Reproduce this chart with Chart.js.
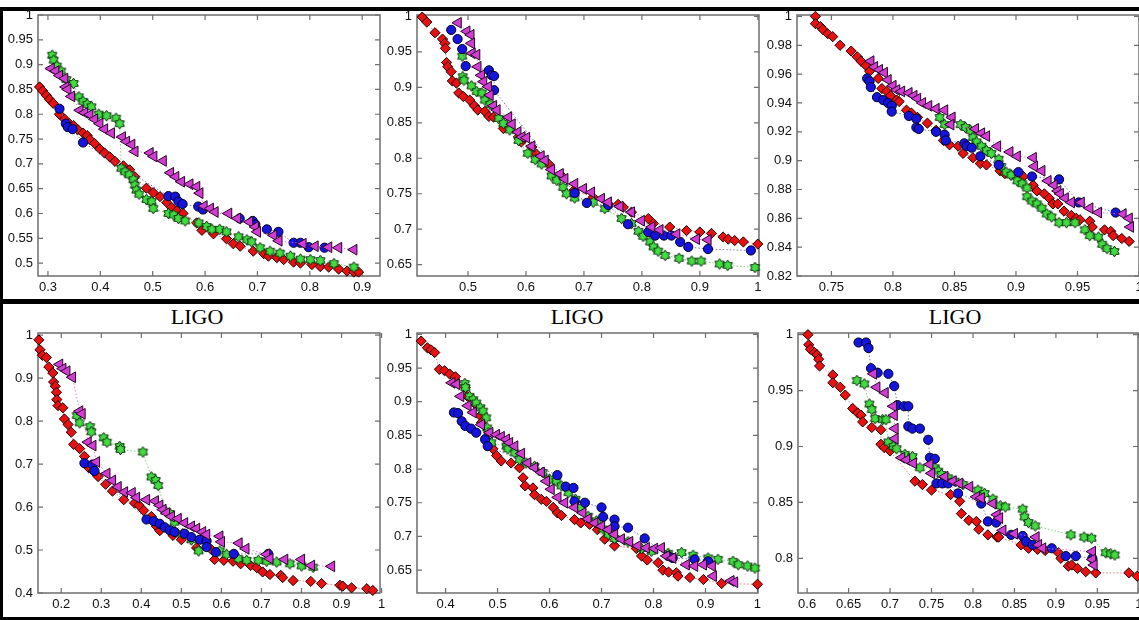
<!DOCTYPE html>
<html>
<head>
<meta charset="utf-8">
<script src="https://cdn.jsdelivr.net/npm/chart.js@4.4.1/dist/chart.umd.min.js"></script>
<style>
  html, body { margin: 0; padding: 0; background: #fff; }
  body { width: 1139px; height: 620px; position: relative; overflow: hidden; }
  canvas { position: absolute; }
  .bar { position: absolute; background: #000; }
  .ttl { position: absolute; font-family: "Liberation Serif", "DejaVu Serif", serif; font-size: 22px;
         color: #000; transform: translateX(-50%); line-height: 22px; }
</style>
</head>
<body>
<div class="bar" style="left:0;top:7px;width:1139px;height:4px"></div>
<div class="bar" style="left:0;top:299px;width:1139px;height:5px"></div>
<div class="bar" style="left:0;top:617px;width:1139px;height:3px"></div>
<div class="bar" style="left:0;top:7px;width:3px;height:613px"></div>
<div class="ttl" style="left:197px;top:306px">LIGO</div>
<div class="ttl" style="left:577px;top:306px">LIGO</div>
<div class="ttl" style="left:955px;top:306px">LIGO</div>

<script>
// ---- panel 1 (top left) ----
var p1XTicks = [0.3, 0.4, 0.5, 0.6, 0.7, 0.8, 0.9];
var p1YTicks = [0.5, 0.55, 0.6, 0.65, 0.7, 0.75, 0.8, 0.85, 0.9, 0.95, 1];
var p1XRange = [0.281, 0.934];
var p1YRange = [0.474, 1.0];
var p1Red = [[0.284,0.855],[0.290,0.847],[0.297,0.838],[0.303,0.830],[0.310,0.822],[0.322,0.800],[0.332,0.790],[0.341,0.781],[0.349,0.777],[0.357,0.769],[0.367,0.762],[0.375,0.757],[0.380,0.749],[0.389,0.741],[0.399,0.730],[0.408,0.722],[0.418,0.714],[0.428,0.705],[0.444,0.696],[0.456,0.688],[0.466,0.674],[0.488,0.651],[0.501,0.642],[0.514,0.634],[0.527,0.622],[0.536,0.612],[0.546,0.605],[0.558,0.600],[0.584,0.581],[0.594,0.566],[0.616,0.559],[0.641,0.549],[0.654,0.539],[0.667,0.534],[0.692,0.524],[0.712,0.519],[0.721,0.514],[0.737,0.511],[0.750,0.507],[0.769,0.502],[0.782,0.500],[0.804,0.497],[0.820,0.493],[0.836,0.492],[0.855,0.488],[0.871,0.484],[0.884,0.482],[0.893,0.482]];
var p1Green = [[0.308,0.919],[0.311,0.909],[0.317,0.897],[0.325,0.887],[0.335,0.870],[0.349,0.862],[0.359,0.835],[0.367,0.826],[0.375,0.820],[0.383,0.815],[0.397,0.800],[0.412,0.797],[0.430,0.792],[0.437,0.781],[0.440,0.691],[0.447,0.684],[0.455,0.678],[0.463,0.668],[0.466,0.657],[0.469,0.647],[0.474,0.639],[0.488,0.628],[0.498,0.624],[0.501,0.610],[0.530,0.600],[0.540,0.597],[0.549,0.590],[0.562,0.585],[0.588,0.581],[0.603,0.574],[0.613,0.568],[0.628,0.568],[0.641,0.563],[0.664,0.553],[0.680,0.547],[0.689,0.543],[0.705,0.531],[0.724,0.524],[0.743,0.520],[0.763,0.514],[0.782,0.508],[0.801,0.507],[0.820,0.505],[0.846,0.499],[0.884,0.492]];
var p1Blue = [[0.322,0.811],[0.334,0.781],[0.338,0.774],[0.347,0.770],[0.367,0.743],[0.530,0.635],[0.543,0.634],[0.549,0.624],[0.557,0.619],[0.587,0.614],[0.596,0.608],[0.666,0.590],[0.691,0.585],[0.696,0.578],[0.718,0.568],[0.740,0.563],[0.769,0.541],[0.782,0.541],[0.798,0.532],[0.828,0.531]];
var p1Magenta = [[0.306,0.892],[0.315,0.887],[0.322,0.878],[0.332,0.872],[0.334,0.855],[0.338,0.850],[0.345,0.836],[0.361,0.808],[0.370,0.803],[0.380,0.799],[0.389,0.790],[0.399,0.781],[0.408,0.770],[0.421,0.762],[0.442,0.754],[0.450,0.745],[0.460,0.739],[0.466,0.725],[0.495,0.722],[0.502,0.715],[0.520,0.706],[0.534,0.682],[0.544,0.674],[0.555,0.664],[0.571,0.659],[0.584,0.654],[0.590,0.641],[0.598,0.615],[0.610,0.610],[0.619,0.603],[0.645,0.600],[0.662,0.590],[0.685,0.583],[0.696,0.573],[0.700,0.563],[0.731,0.556],[0.741,0.545],[0.787,0.539],[0.810,0.534],[0.836,0.532],[0.855,0.531],[0.884,0.527]];

// ---- panel 2 (top middle) ----
var p2XTicks = [0.5, 0.6, 0.7, 0.8, 0.9, 1];
var p2YTicks = [0.65, 0.7, 0.75, 0.8, 0.85, 0.9, 0.95, 1];
var p2XRange = [0.412, 1.002];
var p2YRange = [0.634, 1.002];
var p2Red = [[0.421,0.999],[0.429,0.992],[0.443,0.977],[0.456,0.968],[0.460,0.962],[0.461,0.955],[0.463,0.935],[0.465,0.929],[0.471,0.922],[0.473,0.909],[0.480,0.906],[0.484,0.892],[0.492,0.887],[0.503,0.882],[0.511,0.874],[0.517,0.868],[0.529,0.866],[0.536,0.859],[0.544,0.858],[0.561,0.842],[0.587,0.830],[0.592,0.823],[0.610,0.816],[0.618,0.806],[0.639,0.792],[0.661,0.776],[0.683,0.755],[0.716,0.745],[0.759,0.735],[0.768,0.731],[0.782,0.724],[0.811,0.715],[0.820,0.708],[0.848,0.703],[0.877,0.698],[0.900,0.696],[0.920,0.694],[0.940,0.689],[0.949,0.686],[0.960,0.684],[0.975,0.682],[1.000,0.679]];
var p2Green = [[0.490,0.944],[0.491,0.915],[0.493,0.910],[0.506,0.902],[0.515,0.894],[0.524,0.892],[0.529,0.882],[0.538,0.876],[0.553,0.856],[0.561,0.849],[0.572,0.840],[0.587,0.825],[0.603,0.807],[0.616,0.798],[0.627,0.792],[0.644,0.775],[0.653,0.769],[0.664,0.759],[0.670,0.750],[0.684,0.744],[0.716,0.738],[0.736,0.729],[0.765,0.715],[0.782,0.708],[0.794,0.697],[0.802,0.690],[0.814,0.682],[0.820,0.675],[0.828,0.669],[0.840,0.663],[0.864,0.659],[0.886,0.655],[0.902,0.655],[0.934,0.651],[0.948,0.649],[0.995,0.646]];
var p2Blue = [[0.471,0.981],[0.482,0.968],[0.490,0.954],[0.496,0.930],[0.536,0.924],[0.541,0.917],[0.545,0.916],[0.545,0.896],[0.684,0.751],[0.705,0.737],[0.742,0.734],[0.776,0.707],[0.811,0.696],[0.823,0.691],[0.838,0.691],[0.851,0.691],[0.866,0.682],[0.880,0.675],[0.914,0.672],[0.988,0.670]];
var p2Magenta = [[0.483,0.991],[0.498,0.979],[0.505,0.974],[0.506,0.962],[0.507,0.948],[0.515,0.946],[0.517,0.929],[0.523,0.917],[0.527,0.908],[0.535,0.901],[0.538,0.889],[0.544,0.874],[0.550,0.868],[0.570,0.858],[0.576,0.848],[0.586,0.837],[0.593,0.830],[0.601,0.829],[0.610,0.817],[0.626,0.803],[0.633,0.797],[0.644,0.784],[0.659,0.778],[0.667,0.771],[0.684,0.764],[0.699,0.757],[0.713,0.752],[0.730,0.743],[0.742,0.738],[0.762,0.732],[0.782,0.724],[0.799,0.712],[0.817,0.703],[0.831,0.699],[0.860,0.693],[0.894,0.686],[0.914,0.685]];

// ---- panel 3 (top right) ----
var p3XTicks = [0.75, 0.8, 0.85, 0.9, 0.95, 1];
var p3YTicks = [0.82, 0.84, 0.86, 0.88, 0.9, 0.92, 0.94, 0.96, 0.98, 1];
var p3XRange = [0.722, 1.0];
var p3YRange = [0.82, 1.001];
var p3Red = [[0.737,1.0],[0.737,0.995],[0.741,0.993],[0.743,0.991],[0.747,0.988],[0.751,0.986],[0.757,0.980],[0.766,0.976],[0.771,0.972],[0.774,0.969],[0.778,0.966],[0.781,0.962],[0.788,0.957],[0.791,0.950],[0.795,0.948],[0.798,0.945],[0.803,0.942],[0.805,0.941],[0.811,0.935],[0.815,0.933],[0.820,0.930],[0.828,0.926],[0.835,0.921],[0.841,0.914],[0.846,0.911],[0.853,0.910],[0.857,0.905],[0.865,0.902],[0.871,0.898],[0.876,0.897],[0.887,0.893],[0.891,0.891],[0.896,0.890],[0.906,0.889],[0.914,0.883],[0.917,0.879],[0.923,0.877],[0.927,0.874],[0.930,0.870],[0.934,0.870],[0.939,0.865],[0.945,0.862],[0.949,0.860],[0.952,0.859],[0.960,0.858],[0.962,0.854],[0.972,0.852],[0.977,0.851],[0.979,0.848],[0.986,0.846],[0.992,0.844]];
var p3Green = [[0.838,0.930],[0.842,0.925],[0.855,0.925],[0.859,0.923],[0.863,0.921],[0.865,0.916],[0.868,0.913],[0.872,0.910],[0.876,0.907],[0.880,0.905],[0.886,0.901],[0.888,0.896],[0.892,0.892],[0.896,0.890],[0.901,0.886],[0.905,0.884],[0.909,0.881],[0.909,0.875],[0.913,0.872],[0.917,0.870],[0.921,0.867],[0.925,0.863],[0.929,0.861],[0.935,0.857],[0.941,0.857],[0.948,0.857],[0.956,0.852],[0.960,0.848],[0.967,0.847],[0.970,0.842],[0.974,0.839],[0.980,0.837]];
var p3Blue = [[0.779,0.957],[0.781,0.955],[0.782,0.951],[0.787,0.944],[0.792,0.942],[0.796,0.940],[0.799,0.938],[0.799,0.934],[0.813,0.931],[0.819,0.929],[0.819,0.923],[0.821,0.922],[0.835,0.920],[0.842,0.918],[0.843,0.914],[0.858,0.912],[0.860,0.910],[0.864,0.909],[0.871,0.903],[0.886,0.897],[0.902,0.892],[0.913,0.889],[0.935,0.887],[0.951,0.871],[0.981,0.864]];
var p3Magenta = [[0.782,0.969],[0.785,0.965],[0.789,0.963],[0.793,0.961],[0.796,0.956],[0.800,0.952],[0.803,0.949],[0.807,0.948],[0.813,0.947],[0.817,0.945],[0.820,0.943],[0.824,0.940],[0.829,0.938],[0.835,0.936],[0.842,0.935],[0.848,0.930],[0.847,0.925],[0.867,0.922],[0.872,0.919],[0.876,0.917],[0.885,0.910],[0.895,0.906],[0.901,0.903],[0.914,0.902],[0.915,0.896],[0.921,0.893],[0.926,0.886],[0.931,0.883],[0.934,0.879],[0.936,0.877],[0.940,0.874],[0.945,0.871],[0.953,0.871],[0.960,0.867],[0.967,0.864],[0.987,0.863],[0.992,0.860],[0.993,0.854]];

// ---- panel 4 (bottom left, LIGO) ----
var p4XTicks = [0.2, 0.3, 0.4, 0.5, 0.6, 0.7, 0.8, 0.9, 1];
var p4YTicks = [0.4, 0.5, 0.6, 0.7, 0.8, 0.9, 1];
var p4XRange = [0.142, 0.996];
var p4YRange = [0.4, 1.005];
var p4Red = [[0.144,0.989],[0.147,0.966],[0.153,0.953],[0.163,0.948],[0.169,0.926],[0.179,0.912],[0.181,0.891],[0.185,0.881],[0.188,0.867],[0.189,0.850],[0.192,0.836],[0.204,0.831],[0.208,0.805],[0.217,0.792],[0.225,0.774],[0.231,0.746],[0.246,0.736],[0.258,0.718],[0.269,0.691],[0.280,0.684],[0.292,0.671],[0.311,0.653],[0.328,0.637],[0.356,0.617],[0.383,0.609],[0.394,0.604],[0.406,0.592],[0.425,0.578],[0.438,0.555],[0.446,0.545],[0.479,0.534],[0.500,0.524],[0.538,0.505],[0.575,0.501],[0.583,0.478],[0.606,0.476],[0.629,0.474],[0.648,0.468],[0.673,0.464],[0.688,0.459],[0.703,0.449],[0.721,0.443],[0.748,0.441],[0.753,0.436],[0.779,0.429],[0.823,0.427],[0.850,0.422],[0.896,0.418],[0.903,0.416],[0.925,0.412],[0.963,0.410],[0.978,0.406]];
var p4Green = [[0.239,0.813],[0.246,0.796],[0.272,0.787],[0.275,0.775],[0.306,0.761],[0.314,0.751],[0.346,0.741],[0.348,0.734],[0.404,0.728],[0.425,0.670],[0.436,0.662],[0.442,0.650],[0.461,0.590],[0.471,0.585],[0.483,0.565],[0.503,0.538],[0.525,0.524],[0.543,0.498],[0.596,0.498],[0.613,0.490],[0.642,0.480],[0.663,0.476],[0.692,0.476],[0.713,0.474],[0.738,0.472],[0.771,0.468],[0.800,0.463],[0.829,0.460]];
var p4Blue = [[0.258,0.702],[0.278,0.699],[0.283,0.684],[0.413,0.571],[0.431,0.567],[0.446,0.561],[0.458,0.553],[0.471,0.546],[0.483,0.542],[0.508,0.538],[0.525,0.530],[0.546,0.524],[0.563,0.521],[0.563,0.507],[0.586,0.495],[0.631,0.491],[0.717,0.491]];
var p4Magenta = [[0.196,0.932],[0.204,0.922],[0.214,0.916],[0.228,0.902],[0.246,0.823],[0.252,0.817],[0.267,0.751],[0.279,0.743],[0.288,0.705],[0.314,0.678],[0.328,0.662],[0.342,0.647],[0.358,0.635],[0.377,0.633],[0.388,0.622],[0.413,0.617],[0.435,0.614],[0.446,0.604],[0.454,0.594],[0.463,0.586],[0.475,0.578],[0.492,0.573],[0.508,0.563],[0.525,0.555],[0.538,0.550],[0.553,0.542],[0.563,0.536],[0.596,0.532],[0.600,0.519],[0.644,0.516],[0.661,0.503],[0.713,0.490],[0.721,0.480],[0.758,0.478],[0.800,0.478],[0.825,0.464],[0.875,0.462]];

// ---- panel 5 (bottom middle, LIGO) ----
var p5XTicks = [0.4, 0.5, 0.6, 0.7, 0.8, 0.9, 1];
var p5YTicks = [0.65, 0.7, 0.75, 0.8, 0.85, 0.9, 0.95, 1];
var p5XRange = [0.345, 1.001];
var p5YRange = [0.616, 1.002];
var p5Red = [[0.353,0.990],[0.365,0.980],[0.372,0.977],[0.379,0.973],[0.388,0.948],[0.398,0.946],[0.408,0.941],[0.419,0.937],[0.438,0.921],[0.442,0.908],[0.459,0.895],[0.467,0.879],[0.469,0.869],[0.485,0.839],[0.491,0.830],[0.498,0.820],[0.507,0.812],[0.526,0.809],[0.542,0.802],[0.549,0.787],[0.553,0.775],[0.568,0.772],[0.571,0.762],[0.584,0.755],[0.594,0.752],[0.607,0.743],[0.615,0.735],[0.623,0.731],[0.648,0.725],[0.660,0.720],[0.677,0.718],[0.692,0.710],[0.706,0.696],[0.725,0.686],[0.767,0.682],[0.777,0.671],[0.788,0.665],[0.809,0.661],[0.818,0.650],[0.829,0.647],[0.844,0.646],[0.847,0.641],[0.870,0.639],[0.896,0.636],[0.931,0.630],[1.0,0.629]];
var p5Green = [[0.437,0.927],[0.438,0.921],[0.446,0.908],[0.453,0.903],[0.459,0.898],[0.467,0.891],[0.472,0.886],[0.478,0.876],[0.480,0.861],[0.482,0.854],[0.488,0.839],[0.517,0.834],[0.520,0.830],[0.533,0.824],[0.542,0.814],[0.555,0.809],[0.571,0.804],[0.587,0.795],[0.600,0.785],[0.613,0.782],[0.623,0.775],[0.636,0.765],[0.650,0.755],[0.661,0.743],[0.674,0.730],[0.690,0.723],[0.703,0.711],[0.713,0.703],[0.725,0.697],[0.751,0.692],[0.777,0.682],[0.796,0.678],[0.828,0.675],[0.854,0.676],[0.876,0.672],[0.905,0.668],[0.924,0.666],[0.953,0.663],[0.963,0.658],[0.981,0.656],[0.995,0.653]];
var p5Blue = [[0.416,0.884],[0.424,0.883],[0.431,0.871],[0.438,0.864],[0.449,0.860],[0.459,0.854],[0.476,0.844],[0.481,0.834],[0.615,0.791],[0.631,0.774],[0.646,0.772],[0.648,0.752],[0.668,0.750],[0.700,0.743],[0.703,0.729],[0.725,0.725],[0.725,0.715],[0.751,0.713],[0.783,0.697],[0.828,0.671],[0.837,0.668],[0.879,0.666],[0.905,0.663]];
var p5Magenta = [[0.412,0.928],[0.421,0.926],[0.429,0.908],[0.443,0.894],[0.453,0.884],[0.469,0.866],[0.485,0.854],[0.498,0.851],[0.507,0.848],[0.517,0.844],[0.523,0.839],[0.533,0.834],[0.546,0.823],[0.558,0.809],[0.571,0.802],[0.584,0.795],[0.594,0.782],[0.603,0.770],[0.616,0.758],[0.629,0.750],[0.648,0.743],[0.664,0.735],[0.674,0.726],[0.687,0.720],[0.700,0.715],[0.713,0.710],[0.725,0.703],[0.738,0.696],[0.754,0.692],[0.770,0.686],[0.786,0.683],[0.802,0.682],[0.815,0.683],[0.825,0.671],[0.837,0.668],[0.863,0.658],[0.879,0.656],[0.896,0.658],[0.913,0.656],[0.915,0.641],[0.949,0.634],[0.956,0.632]];

// ---- panel 6 (bottom right, LIGO) ----
var p6XTicks = [0.6, 0.65, 0.7, 0.75, 0.8, 0.85, 0.9, 0.95, 1];
var p6YTicks = [0.8, 0.85, 0.9, 0.95, 1];
var p6XRange = [0.589, 0.999];
var p6YRange = [0.769, 1.0015];
var p6Red = [[0.601,1.0],[0.602,0.991],[0.604,0.987],[0.609,0.984],[0.612,0.982],[0.614,0.978],[0.615,0.972],[0.631,0.964],[0.631,0.957],[0.640,0.953],[0.646,0.946],[0.655,0.934],[0.661,0.930],[0.665,0.928],[0.667,0.922],[0.678,0.917],[0.689,0.915],[0.689,0.902],[0.693,0.899],[0.700,0.896],[0.730,0.869],[0.739,0.866],[0.750,0.861],[0.773,0.857],[0.784,0.851],[0.786,0.840],[0.795,0.834],[0.804,0.833],[0.807,0.826],[0.818,0.821],[0.829,0.819],[0.831,0.819],[0.858,0.812],[0.867,0.809],[0.878,0.808],[0.887,0.807],[0.903,0.805],[0.906,0.800],[0.915,0.793],[0.919,0.794],[0.926,0.791],[0.936,0.788],[0.948,0.787],[0.988,0.787],[0.998,0.784]];
var p6Green = [[0.660,0.959],[0.669,0.956],[0.675,0.938],[0.678,0.933],[0.682,0.925],[0.691,0.924],[0.695,0.924],[0.698,0.904],[0.704,0.900],[0.708,0.898],[0.718,0.893],[0.727,0.891],[0.736,0.881],[0.754,0.881],[0.758,0.878],[0.762,0.875],[0.770,0.872],[0.778,0.869],[0.788,0.866],[0.806,0.861],[0.814,0.858],[0.824,0.853],[0.833,0.847],[0.839,0.846],[0.860,0.844],[0.862,0.837],[0.867,0.832],[0.875,0.829],[0.918,0.821],[0.934,0.819],[0.943,0.818],[0.960,0.805],[0.966,0.804],[0.971,0.803]];
var p6Blue = [[0.662,0.993],[0.671,0.993],[0.674,0.988],[0.677,0.970],[0.685,0.966],[0.698,0.965],[0.705,0.954],[0.709,0.937],[0.717,0.936],[0.722,0.936],[0.722,0.918],[0.727,0.916],[0.736,0.916],[0.746,0.906],[0.748,0.890],[0.754,0.889],[0.756,0.867],[0.763,0.867],[0.770,0.867],[0.782,0.858],[0.810,0.849],[0.818,0.833],[0.828,0.832],[0.846,0.821],[0.860,0.820],[0.864,0.815],[0.872,0.812],[0.895,0.809],[0.912,0.802],[0.924,0.802],[0.944,0.800]];
var p6Magenta = [[0.680,0.965],[0.684,0.953],[0.694,0.948],[0.704,0.936],[0.705,0.928],[0.706,0.916],[0.706,0.907],[0.714,0.890],[0.720,0.888],[0.728,0.885],[0.748,0.884],[0.750,0.876],[0.766,0.873],[0.776,0.869],[0.784,0.867],[0.796,0.864],[0.804,0.855],[0.810,0.854],[0.824,0.849],[0.829,0.839],[0.832,0.836],[0.836,0.825],[0.850,0.822],[0.876,0.819],[0.879,0.812],[0.884,0.809],[0.944,0.806],[0.944,0.799],[0.946,0.794]];

// plot-area rectangles on the page: left, top, right, bottom
var panels = [
  { box: [38, 15, 380, 276],   xr: p1XRange, yr: p1YRange, xt: p1XTicks, yt: p1YTicks, s: [p1Red, p1Green, p1Blue, p1Magenta] },
  { box: [417, 15, 759, 276],  xr: p2XRange, yr: p2YRange, xt: p2XTicks, yt: p2YTicks, s: [p2Red, p2Green, p2Blue, p2Magenta] },
  { box: [797, 15, 1139, 276], xr: p3XRange, yr: p3YRange, xt: p3XTicks, yt: p3YTicks, s: [p3Red, p3Green, p3Blue, p3Magenta] },
  { box: [38, 333, 380, 593],  xr: p4XRange, yr: p4YRange, xt: p4XTicks, yt: p4YTicks, s: [p4Red, p4Green, p4Blue, p4Magenta] },
  { box: [417, 333, 758, 593], xr: p5XRange, yr: p5YRange, xt: p5XTicks, yt: p5YTicks, s: [p5Red, p5Green, p5Blue, p5Magenta] },
  { box: [798, 333, 1138, 593],xr: p6XRange, yr: p6YRange, xt: p6XTicks, yt: p6YTicks, s: [p6Red, p6Green, p6Blue, p6Magenta] }
];

// six-point star marker, drawn once into a small canvas
function starMarker(r, fill, stroke) {
  var c = document.createElement('canvas');
  var n = Math.ceil(r * 2 + 4);
  c.width = n; c.height = n;
  var g = c.getContext('2d');
  var cx = n / 2, cy = n / 2;
  g.beginPath();
  for (var i = 0; i < 12; i++) {
    var a = -Math.PI / 2 + i * Math.PI / 6;
    var rr = i % 2 ? r * 0.62 : r;
    var px = cx + Math.cos(a) * rr, py = cy + Math.sin(a) * rr;
    if (i) g.lineTo(px, py); else g.moveTo(px, py);
  }
  g.closePath();
  g.fillStyle = fill; g.fill();
  g.lineWidth = 1; g.strokeStyle = stroke; g.stroke();
  return c;
}

var greenStar = starMarker(5.4, '#40dc40', '#0c2a0c');

// red, green, blue, magenta
var styles = [
  { point: 'rectRot', radius: 5.1, fill: '#e81010', edge: '#200000', line: 'rgba(230,110,110,0.9)', order: 4 },
  { point: greenStar, radius: 5,   fill: '#40dc40', edge: '#0c2a0c', line: 'rgba(110,200,110,0.9)', order: 3 },
  { point: 'circle',  radius: 4.6, fill: '#1414dc', edge: '#000028', line: 'rgba(110,110,170,0.9)', order: 2 },
  { point: 'triangle',radius: 6.2, fill: '#d23cd2', edge: '#280628', line: 'rgba(210,120,210,0.9)', order: 1, rot: -90 }
];

// frame + inward tick marks (gnuplot look)
var framePlugin = {
  id: 'frame',
  beforeDatasetsDraw: function (chart) {
    var a = chart.chartArea, ctx = chart.ctx;
    var xs = chart.scales.x, ys = chart.scales.y;
    ctx.save();
    ctx.strokeStyle = '#6e6e6e';
    ctx.lineWidth = 1.5;
    ctx.strokeRect(a.left, a.top, a.right - a.left, a.bottom - a.top);
    ctx.lineWidth = 1.2;
    ctx.beginPath();
    xs.ticks.forEach(function (t) {
      var px = xs.getPixelForValue(t.value);
      ctx.moveTo(px, a.bottom); ctx.lineTo(px, a.bottom - 5);
      ctx.moveTo(px, a.top); ctx.lineTo(px, a.top + 5);
    });
    ys.ticks.forEach(function (t) {
      var py = ys.getPixelForValue(t.value);
      ctx.moveTo(a.left, py); ctx.lineTo(a.left + 5, py);
      ctx.moveTo(a.right, py); ctx.lineTo(a.right - 5, py);
    });
    ctx.stroke();
    ctx.restore();
  }
};

function fmt(v) { return String(Number(v.toFixed(3))); }

var Y_W = 38, X_H = 24, PAD_T = 10, PAD_R = 12;
var tickFont = { family: "'Liberation Sans', Arial, sans-serif", size: 13 };

panels.forEach(function (p) {
  var b = p.box;
  var cv = document.createElement('canvas');
  var w = (b[2] - b[0]) + Y_W + PAD_R;
  var h = (b[3] - b[1]) + PAD_T + X_H;
  cv.width = w; cv.height = h;
  cv.style.left = (b[0] - Y_W) + 'px';
  cv.style.top = (b[1] - PAD_T) + 'px';
  cv.style.width = w + 'px';
  cv.style.height = h + 'px';
  document.body.appendChild(cv);

  new Chart(cv, {
    type: 'scatter',
    data: {
      datasets: p.s.map(function (pts, i) {
        var st = styles[i];
        return {
          data: pts.map(function (q) { return { x: q[0], y: q[1] }; }),
          showLine: true,
          borderColor: st.line,
          borderWidth: 1,
          borderDash: [1.5, 2],
          pointStyle: st.point,
          pointRadius: st.radius,
          pointRotation: st.rot || 0,
          pointBackgroundColor: st.fill,
          pointBorderColor: st.edge,
          pointBorderWidth: 1,
          order: st.order,
          clip: 6
        };
      })
    },
    options: {
      responsive: false,
      animation: false,
      devicePixelRatio: 1,
      layout: { padding: { left: 0, top: PAD_T, right: PAD_R, bottom: 0 } },
      plugins: { legend: { display: false }, tooltip: { enabled: false }, title: { display: false } },
      scales: {
        x: {
          type: 'linear', min: p.xr[0], max: p.xr[1],
          grid: { display: false, drawTicks: false }, border: { display: false },
          ticks: { font: tickFont, color: '#111', padding: 4, maxRotation: 0, autoSkip: false,
                   callback: function (v) { return fmt(v); } },
          afterBuildTicks: function (s) { s.ticks = p.xt.map(function (v) { return { value: v }; }); },
          afterFit: function (s) { s.height = X_H; s.paddingLeft = 0; s.paddingRight = 0; }
        },
        y: {
          type: 'linear', min: p.yr[0], max: p.yr[1],
          grid: { display: false, drawTicks: false }, border: { display: false },
          ticks: { font: tickFont, color: '#111', padding: 5, autoSkip: false,
                   callback: function (v) { return fmt(v); } },
          afterBuildTicks: function (s) { s.ticks = p.yt.map(function (v) { return { value: v }; }); },
          afterFit: function (s) { s.width = Y_W; s.paddingTop = 0; s.paddingBottom = 0; }
        }
      }
    },
    plugins: [framePlugin]
  });
});
</script>
</body>
</html>
